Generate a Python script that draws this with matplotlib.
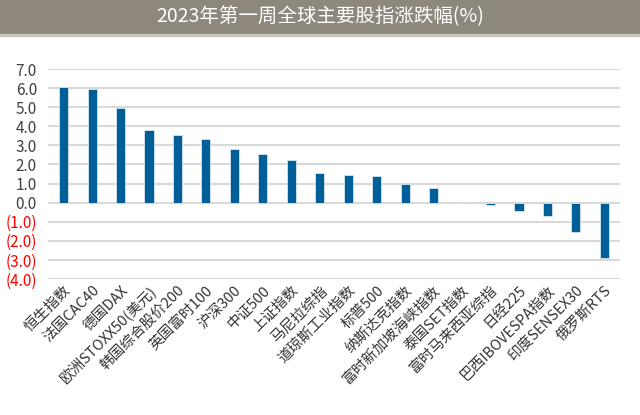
import matplotlib.pyplot as plt
from matplotlib.patches import Rectangle

plt.rcParams['font.family'] = ['Noto Sans CJK SC', 'DejaVu Sans']

# 数据
names = ["恒生指数", "法国CAC40", "德国DAX", "欧洲STOXX50(美元)", "韩国综合股价200",
         "英国富时100", "沪深300", "中证500", "上证指数", "马尼拉综指",
         "道琼斯工业指数", "标普500", "纳斯达克指数", "富时新加坡海峡指数", "泰国SET指数",
         "富时马来西亚综指", "日经225", "巴西IBOVESPA指数", "印度SENSEX30", "俄罗斯RTS"]
pct = [6.08, 5.95, 4.94, 3.82, 3.55, 3.33, 2.81, 2.53, 2.21, 1.55,
       1.46, 1.41, 0.98, 0.75, 0.0, -0.14, -0.45, -0.72, -1.55, -2.9]
yticks = [7, 6, 5, 4, 3, 2, 1, 0, -1, -2, -3, -4]

fig = plt.figure(figsize=(6.4, 4.15), dpi=100)

# bandeau du titre
fig.patches.append(Rectangle((0, 1 - 34 / 415), 1, 34 / 415, transform=fig.transFigure,
                             color='#8e877c', zorder=0))
fig.patches.append(Rectangle((0, 1 - 36 / 415), 1, 2 / 415, transform=fig.transFigure,
                             color='#c9c4bc', zorder=0))
fig.text(0.5, 1 - 17 / 415, "2023年第一周全球主要股指涨跌幅(%)", color='white',
         ha='center', va='center', fontsize=14)

ax = fig.add_axes([48 / 640, 1 - 279 / 415, (620 - 48) / 640, (279 - 69) / 415])
x = range(len(names))
ax.bar(x, pct, width=0.32, color='#005f96', edgecolor='#d6e4ee', linewidth=0.6, zorder=3)

ax.set_ylim(-4, 7)
ax.set_xlim(-0.55, len(names) - 0.45)
ax.set_yticks(yticks)
labs = []
for v in yticks:
    labs.append(f"({abs(v):.1f})" if v < 0 else f"{v:.1f}")
ax.set_yticklabels(labs, fontsize=11)
for t, v in zip(ax.get_yticklabels(), yticks):
    t.set_color('red' if v < 0 else '#404040')
ax.yaxis.grid(True, color='#d9d9d9', linewidth=1.5, zorder=0)
ax.tick_params(axis='y', length=0, pad=8)
ax.tick_params(axis='x', length=0, pad=3)
for s in ax.spines.values():
    s.set_visible(False)

ax.set_xticks(list(x))
ax.set_xticklabels(names, rotation=45, ha='right', rotation_mode='anchor',
                   fontsize=10.5, color='#333333')

fig.savefig("out.png", dpi=100)
